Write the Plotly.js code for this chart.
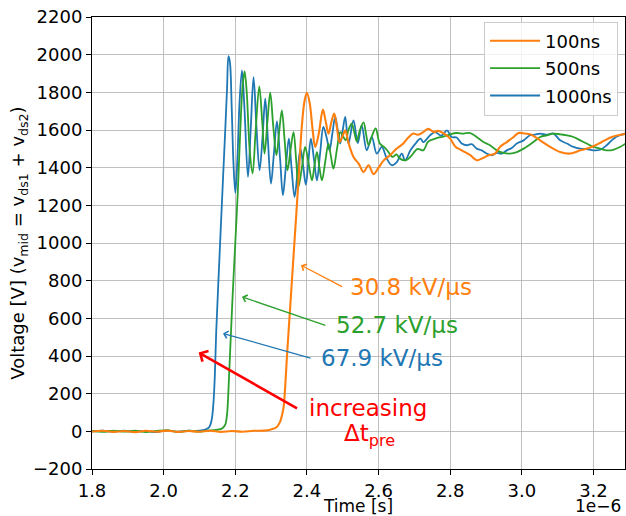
<!DOCTYPE html>
<html>
<head>
<meta charset="utf-8">
<script src="https://cdn.plot.ly/plotly-3.0.1.min.js"></script>
<style>html,body{margin:0;padding:0;background:#fff;}#chart{width:626px;height:516px;}</style>
</head>
<body>
<div id="chart"></div>
<script>
// Time in microseconds (axis shows 1e-6 s), voltage in V
const seriesNames = ["100ns", "500ns", "1000ns"];

const data1000ns = [
  [1.80,0],[1.83,3],[1.86,-2],[1.89,4],[1.92,-3],[1.95,2],[1.98,-4],[2.01,5],[2.04,-2],[2.07,3],
  [2.09,2],[2.11,6],[2.12,12],[2.128,25],[2.134,60],[2.139,150],[2.143,300],[2.1467,525],[2.156,930],
  [2.1657,1340],[2.172,1600],[2.177,1820],[2.181,1992],[2.185,1960],[2.19,1720],[2.195,1420],[2.2002,1266],
  [2.206,1450],[2.212,1750],[2.2187,1917],[2.226,1700],[2.2354,1351],[2.243,1600],[2.251,1881],[2.259,1620],
  [2.2678,1386],[2.276,1560],[2.2837,1767],[2.291,1550],[2.2996,1316],[2.308,1480],[2.3163,1646],[2.325,1450],
  [2.333,1254],[2.341,1400],[2.3496,1554],[2.357,1400],[2.3655,1245],[2.374,1380],[2.382,1501],[2.39,1400],
  [2.397,1310],[2.404,1430],[2.411,1554],[2.42,1440],[2.428,1333],[2.437,1480],[2.446,1616],[2.455,1560],
  [2.463,1492],[2.471,1580],[2.479,1669],[2.486,1600],[2.493,1528],[2.50,1600],[2.507,1669],[2.516,1528],
  [2.53,1651],[2.542,1530],[2.553,1625],[2.567,1492],[2.581,1563],[2.595,1475],[2.609,1510],[2.623,1448],
  [2.637,1413],[2.651,1430],[2.665,1475],[2.674,1439],[2.689,1492],[2.703,1528],[2.717,1554],[2.725,1536],
  [2.744,1572],[2.758,1589],[2.775,1570],[2.791,1598],[2.804,1563],[2.818,1560],[2.832,1528],[2.846,1519],
  [2.86,1525],[2.874,1501],[2.888,1492],[2.902,1475],[2.916,1466],[2.93,1478],[2.944,1475],[2.958,1492],
  [2.972,1505],[2.986,1528],[3.005,1545],[3.023,1572],[3.037,1575],[3.051,1581],[3.07,1575],[3.088,1581],
  [3.107,1545],[3.126,1528],[3.144,1510],[3.163,1501],[3.181,1498],[3.2,1492],[3.219,1495],[3.237,1519],
  [3.256,1554],[3.274,1572],[3.29,1581]
];

const data500ns = [
  [1.80,2],[1.83,-3],[1.86,4],[1.89,-2],[1.92,3],[1.95,-4],[1.98,2],[2.01,5],[2.04,-3],[2.07,3],[2.10,-2],
  [2.12,4],[2.14,6],[2.155,10],[2.165,18],[2.172,35],[2.177,90],[2.181,220],[2.186,440],[2.1925,714],
  [2.2,1000],[2.207,1270],[2.214,1600],[2.22,1820],[2.226,1911],[2.232,1800],[2.24,1500],[2.2483,1369],
  [2.257,1600],[2.267,1832],[2.275,1650],[2.2817,1475],[2.29,1650],[2.2976,1798],[2.306,1620],[2.3148,1466],
  [2.322,1580],[2.33,1704],[2.338,1540],[2.3457,1386],[2.354,1490],[2.3626,1589],[2.37,1440],[2.3765,1298],
  [2.386,1400],[2.395,1510],[2.405,1420],[2.414,1333],[2.421,1410],[2.428,1483],[2.435,1400],[2.442,1333],
  [2.451,1430],[2.46,1528],[2.467,1460],[2.474,1395],[2.484,1500],[2.493,1589],[2.5,1570],[2.508,1545],
  [2.516,1600],[2.525,1634],[2.532,1590],[2.539,1540],[2.548,1600],[2.558,1640],[2.565,1580],[2.572,1520],
  [2.582,1570],[2.592,1609],[2.603,1530],[2.615,1510],[2.625,1490],[2.639,1457],[2.65,1470],[2.66,1448],
  [2.676,1439],[2.69,1460],[2.709,1500],[2.725,1492],[2.738,1537],[2.752,1550],[2.766,1560],[2.781,1565],
  [2.8,1577],[2.818,1584],[2.837,1581],[2.856,1584],[2.874,1563],[2.893,1536],[2.911,1519],[2.93,1492],
  [2.949,1478],[2.967,1475],[2.986,1483],[3.005,1501],[3.032,1536],[3.051,1563],[3.07,1572],[3.088,1581],
  [3.107,1577],[3.126,1572],[3.144,1563],[3.163,1545],[3.181,1528],[3.2,1510],[3.219,1501],[3.237,1492],
  [3.255,1495],[3.274,1510],[3.29,1528]
];

const data100ns = [
  [1.80,-2],[1.83,3],[1.86,-3],[1.89,2],[1.92,-4],[1.95,3],[1.98,-2],[2.01,4],[2.04,-3],[2.07,2],[2.10,-2],
  [2.13,3],[2.16,-3],[2.19,2],[2.22,-2],[2.25,3],[2.28,4],[2.30,10],[2.315,22],[2.325,50],[2.331,90],
  [2.335,130],[2.345,420],[2.355,710],[2.365,1000],[2.3765,1333],[2.385,1600],[2.393,1750],[2.40,1798],
  [2.408,1740],[2.416,1600],[2.4232,1510],[2.433,1580],[2.4446,1708],[2.452,1650],[2.4603,1581],[2.468,1640],
  [2.4762,1687],[2.484,1610],[2.491,1536],[2.50,1570],[2.507,1598],[2.515,1540],[2.53,1457],[2.545,1420],
  [2.558,1377],[2.572,1413],[2.586,1365],[2.60,1400],[2.615,1440],[2.632,1466],[2.65,1500],[2.669,1528],
  [2.683,1560],[2.697,1581],[2.71,1575],[2.725,1589],[2.739,1607],[2.753,1590],[2.767,1595],[2.786,1577],
  [2.80,1554],[2.814,1513],[2.832,1492],[2.856,1466],[2.874,1439],[2.893,1453],[2.907,1466],[2.925,1475],
  [2.939,1510],[2.958,1536],[2.977,1563],[2.991,1584],[3.009,1581],[3.023,1577],[3.051,1545],[3.079,1510],
  [3.107,1483],[3.135,1475],[3.163,1492],[3.195,1510],[3.223,1536],[3.251,1563],[3.283,1577],[3.29,1580]
];

const slopeLabels = ["30.8 kV/µs", "52.7 kV/µs", "67.9 kV/µs"];
const colors = {"100ns": "#ff7f0e", "500ns": "#2ca02c", "1000ns": "#1f77b4"};

function mk(d, name, rank, w) {
  return {
    x: d.map(p => p[0]), y: d.map(p => p[1]), name: name, type: "scatter", mode: "lines",
    line: {color: colors[name], width: w, shape: "spline", smoothing: 1.0},
    legendrank: rank, legendgroup: name
  };
}
const traces = [
  mk(data1000ns, seriesNames[2], 3, 1.8),
  mk(data500ns, seriesNames[1], 2, 1.8),
  mk(data100ns, seriesNames[0], 1, 2.1)
];

const F = "DejaVu Sans, sans-serif";
function arrow(x, y, ax, ay, color, w, size) {
  return {x: x, y: y, ax: ax, ay: ay, xref: "x", yref: "y", axref: "x", ayref: "y",
    text: "", showarrow: true, arrowhead: 4, arrowsize: size, arrowwidth: w, arrowcolor: color, standoff: 0, startstandoff: 0};
}
function label(x, y, txt, color) {
  return {x: x, y: y, xref: "x", yref: "y", text: txt, showarrow: false,
    font: {family: F, size: 23, color: color}, xanchor: "center", yanchor: "middle"};
}

const annotations = [
  arrow(2.3833, 882, 2.5021, 764, colors["100ns"], 1.3, 1.1),
  arrow(2.2187, 714, 2.4558, 560, colors["500ns"], 1.3, 1.1),
  arrow(2.1657, 520, 2.414, 387, colors["1000ns"], 1.3, 1.1),
  arrow(2.0976, 419, 2.3766, 117, "#ff0000", 2.6, 0.9),
  label(2.6909, 765, slopeLabels[0], colors["100ns"]),
  label(2.6519, 564, slopeLabels[1], colors["500ns"]),
  label(2.61, 387, slopeLabels[2], colors["1000ns"]),
  label(2.571, 122, "increasing", "#ff0000"),
  label(2.575, -22, "Δt<sub>pre</sub>", "#ff0000"),
  {x: 0.997, y: -0.082, xref: "paper", yref: "paper", text: "1e\u22126", showarrow: false,
   font: {family: F, size: 17, color: "#000"}, xanchor: "right", yanchor: "middle"}
];

const axisCommon = {
  showline: true, mirror: true, linecolor: "#000", linewidth: 1,
  ticks: "outside", ticklen: 5, tickwidth: 1, tickcolor: "#000",
  showgrid: true, gridcolor: "#b0b0b0", gridwidth: 0.8, zeroline: false,
  tickfont: {family: F, size: 18, color: "#000"}
};

const layout = {
  width: 626, height: 516,
  margin: {l: 92, r: 1, t: 17, b: 47},
  paper_bgcolor: "#fff", plot_bgcolor: "#fff",
  font: {family: F, color: "#000"},
  showlegend: true,
  legend: {x: 0.987, xanchor: "right", y: 0.99, yanchor: "top",
    font: {family: F, size: 18, color: "#000"}, bgcolor: "rgba(255,255,255,0.8)",
    bordercolor: "#cccccc", borderwidth: 1, traceorder: "grouped", tracegroupgap: 1, itemwidth: 50},
  xaxis: Object.assign({}, axisCommon, {
    range: [1.8, 3.288], tick0: 1.8, dtick: 0.2, tickformat: ".1f",
    title: {text: "Time [s]", font: {family: F, size: 17, color: "#000"}, standoff: 4}
  }),
  yaxis: Object.assign({}, axisCommon, {
    range: [-200, 2200], tick0: 0, dtick: 200,
    title: {text: "Voltage [V] (v<sub>mid</sub> = v<sub>ds1</sub> + v<sub>ds2</sub>)", font: {family: F, size: 18, color: "#000"}, standoff: 3}
  }),
  annotations: annotations
};

Plotly.newPlot("chart", traces, layout, {displayModeBar: false, staticPlot: true});
</script>
</body>
</html>
